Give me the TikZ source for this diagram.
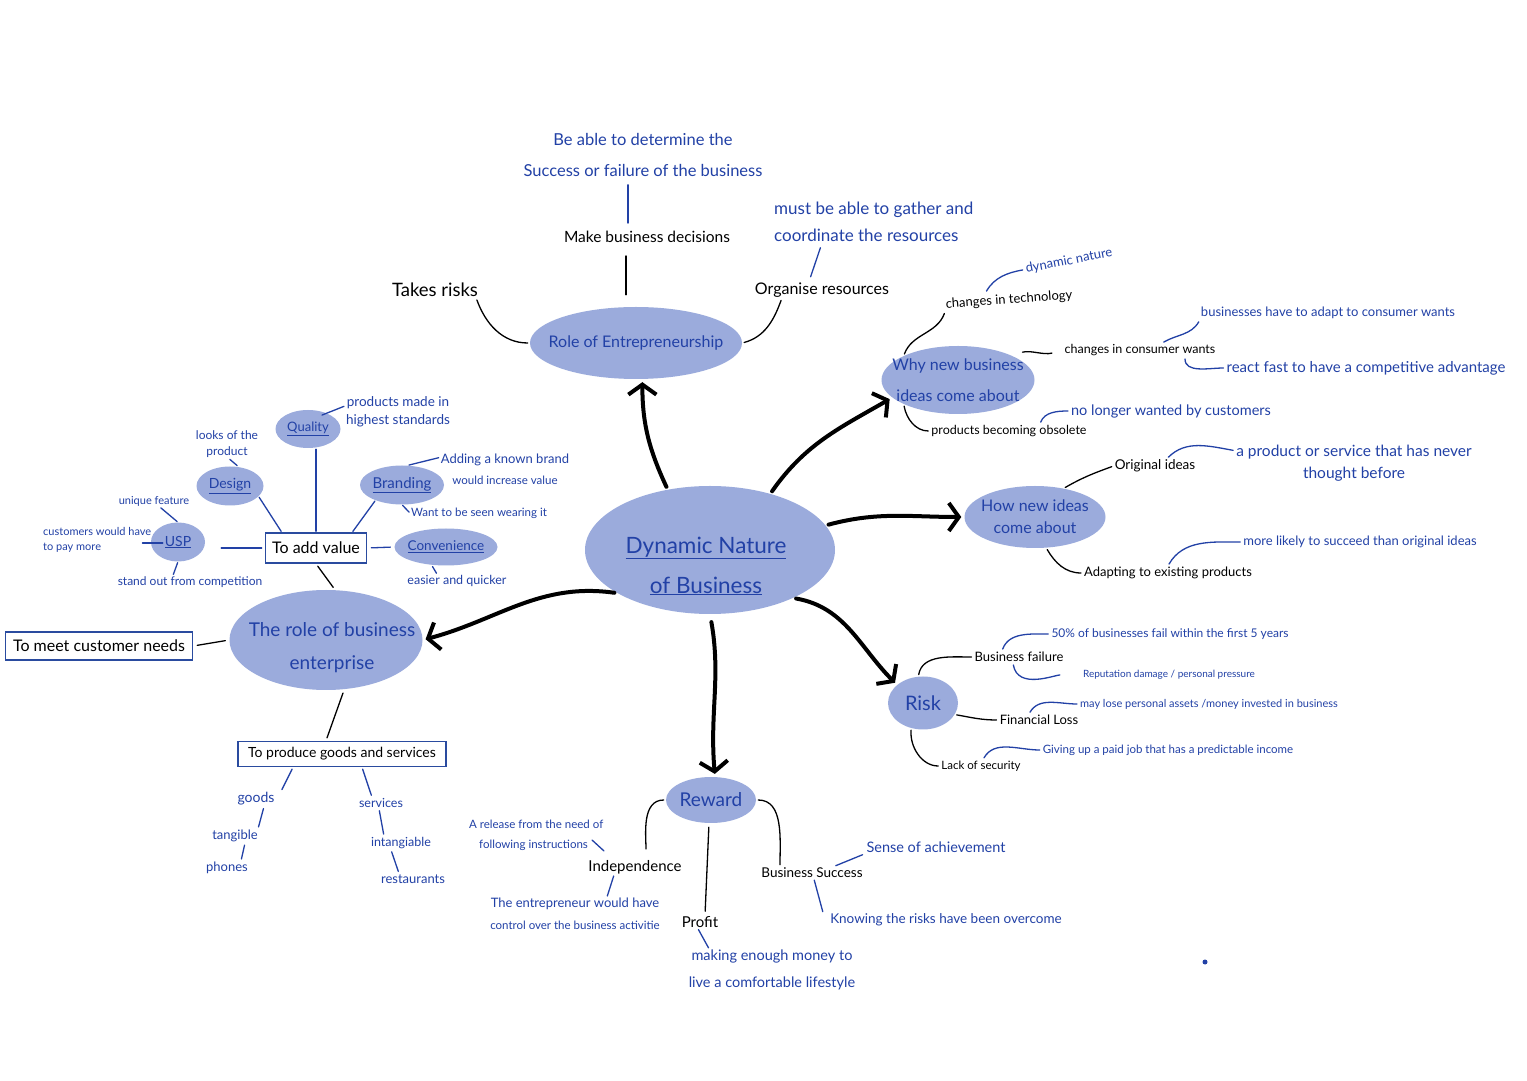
\documentclass[tikz,border=0pt]{standalone}
\usepackage{fontspec}
\setmainfont{Lato}
\usetikzlibrary{shapes.geometric,arrows.meta,positioning}

\definecolor{blobfill}{HTML}{9BABDC}
\definecolor{inkblue}{HTML}{2241A6}
\definecolor{boxblue}{HTML}{2A4B9F}

\begin{document}
\begin{tikzpicture}[
        x=1pt, y=1pt,
        >={Straight Barb[length=10pt,width=28pt]},
        % Node styles
        blob/.style 2 args={ellipse, fill=blobfill, inner sep=0pt,
            minimum width=#1, minimum height=#2},
        goalbox/.style={rectangle, draw=boxblue, line width=1.6pt, inner sep=0pt,
            align=center, font=\fontsize{#1}{#1}\selectfont},
        topic/.style={inner sep=1pt, align=center, font=\fontsize{#1}{#1}\selectfont},
        remark/.style={topic=#1, text=inkblue},
        % Connector styles
        wire/.style={line width=1.3pt, line cap=round, shorten <=#1, shorten >=#1},
        wire/.default=2pt,
        bluewire/.style={wire=#1, draw=inkblue},
        bluewire/.default=2pt,
        bigarrow/.style={->, line width=4pt, line cap=round,
            shorten <=3pt, shorten >=3pt}
    ]

    \path[use as bounding box, fill=white] (0,0) rectangle (1527,1080);

    % Centre
    \node[blob={250pt}{128pt}] (dnb) at (710,530) {};
    \node[remark=22.5] (dnbtext) at (706,514) {\underline{Dynamic Nature}\\[17.5pt]\underline{of Business}};

    % Role of Entrepreneurship
    \node[blob={212pt}{72pt}] (role) at (636,737) {};
    \node[remark=16] (roletext) at (role) {Role of Entrepreneurship};
    \node[topic=18.5] (takes) at (435,790) {Takes risks};
    \node[topic=15.5] (decide) at (647,843) {Make business decisions};
    \node[remark=16.5] (determine) at (643,925) {Be able to determine the\\[14.5pt]Success or failure of the business};
    \node[topic=16] (organise) at (822,790) {Organise resources};
    \node[remark=17, anchor=west, align=left] (gather) at (773,858) {must be able to gather and\\[10pt]coordinate the resources};

    % Why new business ideas come about
    \node[blob={153pt}{68pt}] (why) at (958,700) {};
    \node[remark=16] (whytext) at (why) {Why new business\\[15pt]ideas come about};
    \node[topic=13, rotate=4] (tech) at (1009,780) {changes in technology};
    \node[remark=13, rotate=11] (dynamic) at (1069,819) {dynamic nature};
    \node[topic=12.5] (consumer) at (1140,730) {changes in consumer wants};
    \node[remark=13] (adapt) at (1328,767) {businesses have to adapt to consumer wants};
    \node[remark=15] (react) at (1366,712) {react fast to have a competitive advantage};
    \node[topic=12.5] (obsolete) at (1009,649) {products becoming obsolete};
    \node[remark=14.5] (nolonger) at (1171,669) {no longer wanted by customers};

    % How new ideas come about
    \node[blob={141pt}{62pt}] (how) at (1035,563) {};
    \node[remark=16] (howtext) at (how) {How new ideas\\[6pt]come about};
    \node[topic=13.5] (original) at (1155,614) {Original ideas};
    \node[remark=15.5] (never) at (1354,617) {a product or service that has never\\[6.5pt]thought before};
    \node[topic=13] (adapting) at (1168,507) {Adapting to existing products};
    \node[remark=13] (likely) at (1360,538) {more likely to succeed than original ideas};

    % Risk
    \node[blob={70pt}{53pt}] (risk) at (923,377) {};
    \node[remark=20] (risktext) at (risk) {Risk};
    \node[topic=13] (failure) at (1019,423) {Business failure};
    \node[remark=12] (fifty) at (1170,446) {50\% of businesses fail within the first 5 years};
    \node[remark=10] (reputation) at (1169,405) {Reputation damage / personal pressure};
    \node[topic=13] (finloss) at (1039,360) {Financial Loss};
    \node[remark=11] (assets) at (1209,376) {may lose personal assets /money invested in business};
    \node[topic=11.5] (security) at (981,314) {Lack of security};
    \node[remark=11.5] (paidjob) at (1168,330) {Giving up a paid job that has a predictable income};

    % Reward
    \node[blob={90pt}{46pt}] (reward) at (711,280) {};
    \node[remark=19] (rewardtext) at (reward) {Reward};
    \node[topic=15] (indep) at (635,213) {Independence};
    \node[remark=11.5, anchor=west, align=left] (release) at (468,245) {A release from the need of\\[8.5pt]\hspace*{10pt}following instructions};
    \node[remark=13] (control) at (575,166) {The entrepreneur would have\\[9pt]{\fontsize{11.5}{11.5}\selectfont control over the business activitie}};
    \node[topic=15] (profit) at (700,158) {Profit};
    \node[remark=14.5] (money) at (772,110) {making enough money to\\[12.5pt]live a comfortable lifestyle};
    \node[topic=13.5] (success) at (812,207) {Business Success};
    \node[remark=14.5] (achieve) at (936,233) {Sense of achievement};
    \node[remark=13.5] (knowing) at (946,160) {Knowing the risks have been overcome};

    % The role of business enterprise
    \node[blob={193pt}{100pt}] (rbe) at (326,440) {};
    \node[remark=19] (rbetext) at (332,432) {The role of business\\[14pt]enterprise};
    \node[goalbox=16, minimum width=187pt, minimum height=28pt] (needs) at (99,434) {To meet customer needs};
    \node[goalbox=16, minimum width=101pt, minimum height=30pt] (addvalue) at (316,532) {To add value};
    \node[goalbox=14, minimum width=208pt, minimum height=25pt] (produce) at (342,326) {To produce goods and services};

    % To add value
    \node[blob={65pt}{38pt}] (quality) at (308,651) {};
    \node[remark=13] (qualitytext) at (quality) {\underline{Quality}};
    \node[remark=13.5] (madein) at (398,668) {products made in\\[4.5pt]highest standards};
    \node[blob={67pt}{39pt}] (design) at (230,594) {};
    \node[remark=14] (designtext) at (design) {\underline{Design}};
    \node[remark=12] (looks) at (227,636) {looks of the\\[4pt]product};
    \node[blob={84pt}{39pt}] (branding) at (402,595) {};
    \node[remark=15] (brandingtext) at (branding) {\underline{Branding}};
    \node[remark=13] (brand) at (505,611) {Adding a known brand\\[8pt]{\fontsize{11.5}{11.5}\selectfont would increase value}};
    \node[remark=11.5] (wearing) at (479,567) {Want to be seen wearing it};
    \node[blob={54pt}{39pt}] (usp) at (178,538) {};
    \node[remark=14] (usptext) at (usp) {\underline{USP}};
    \node[remark=11] (unique) at (154,579) {unique feature};
    \node[remark=11, anchor=west, align=left] (paymore) at (42,540) {customers would have\\[4pt]to pay more};
    \node[remark=12] (standout) at (190,498) {stand out from competition};
    \node[blob={103pt}{37pt}] (conv) at (446,533) {};
    \node[remark=13.5] (convtext) at (conv) {\underline{Convenience}};
    \node[remark=12.5] (easier) at (457,499) {easier and quicker};

    % To produce goods and services
    \node[remark=14] (goods) at (256,281) {goods};
    \node[remark=13] (tangible) at (235,244) {tangible};
    \node[remark=13] (phones) at (227,212) {phones};
    \node[remark=12.5] (services) at (381,277) {services};
    \node[remark=12.5] (intang) at (401,237) {intangiable};
    \node[remark=13] (restau) at (413,201) {restaurants};

    % Main arrows
    \draw[bigarrow] (dnb.125) to[out=115, in=-90] (role.-80);
    \draw[bigarrow] (dnb.43) to[out=55, in=210] (why.195);
    \draw[bigarrow] (dnb.12) to[out=15, in=180] (how.west);
    \draw[bigarrow] (dnb.-30) to[out=-10, in=135] (risk.145);
    \draw[bigarrow, shorten <=8pt] (dnb.south) to[out=-80, in=95] (reward.80);
    \draw[bigarrow] (dnb.205) to[out=172, in=15] (rbe.east);

    % Role of Entrepreneurship links
    \draw[wire] ([xshift=-3pt]takes.south east) to[out=-70, in=180] (role.west);
    \draw[wire=12pt] ([xshift=-21pt]decide.south) -- ([xshift=-10pt]role.north);
    \draw[bluewire=7pt] ([xshift=-15pt]determine.south) -- ([xshift=-19pt]decide.north);
    \draw[wire] ([xshift=28pt]organise.south west) to[out=-110, in=15] (role.east);
    \draw[bluewire=5pt] ([xshift=-13pt]organise.north) -- (organise.north |- gather.south);

    % Why links
    \draw[wire] (why.north west) to[out=70, in=-110] (tech.south west);
    \draw[bluewire] ([xshift=-23pt]tech.north) to[out=60, in=190] (dynamic.west);
    \draw[wire=12pt] (why.25) to[out=15, in=195] (consumer.west);
    \draw[bluewire] ([xshift=22pt]consumer.north) to[out=30, in=-120] (adapt.south west);
    \draw[bluewire] ([xshift=45pt]consumer.south) to[out=-90, in=180] (react.west);
    \draw[wire] (why.south west) to[out=-80, in=180] (obsolete.west);
    \draw[bluewire] ([xshift=31pt]obsolete.north) to[out=70, in=180] (nolonger.west);

    % How links
    \draw[wire] (how.45) to[out=30, in=200] (original.west);
    \draw[bluewire] ([xshift=12pt]original.north) to[out=45, in=170] ([yshift=-7pt]never.north west);
    \draw[wire] (how.-70) to[out=-60, in=180] (adapting.west);
    \draw[bluewire] (adapting.north) to[out=60, in=180] (likely.west);

    % Risk links
    \draw[wire] (risk.100) to[out=80, in=180] (failure.west);
    \draw[bluewire] ([xshift=-17pt]failure.north) to[out=70, in=180] (fifty.west);
    \draw[bluewire, shorten >=22pt] ([xshift=-6pt]failure.south) to[out=-80, in=180] (reputation.west);
    \draw[wire] (risk.-20) to[out=-10, in=180] (finloss.west);
    \draw[bluewire] ([xshift=-10pt]finloss.north) to[out=60, in=180] (assets.west);
    \draw[wire] (risk.-115) to[out=-95, in=180] (security.west);
    \draw[bluewire] ([xshift=2pt]security.north) to[out=60, in=180] (paidjob.west);

    % Reward links
    \draw[wire, shorten >=10pt] (reward.west) to[out=180, in=90] ([xshift=11pt]indep.north);
    \draw[bluewire=0pt] ([xshift=124pt, yshift=-5pt]release.west) -- ([xshift=-31pt, yshift=8pt]indep.north);
    \draw[bluewire=1pt] ([xshift=-21pt]indep.south) -- ([xshift=32pt]control.north);
    \draw[wire=4pt] ([xshift=-2pt]reward.south) -- ([xshift=5pt]profit.north);
    \draw[bluewire=1pt] ([xshift=-2pt]profit.south) -- ([xshift=-63pt]money.north);
    \draw[wire] (reward.east) to[out=0, in=90] ([xshift=-32pt]success.north);
    \draw[bluewire=3pt] ([xshift=21pt]success.north) -- (achieve.south west);
    \draw[bluewire=1pt] ([xshift=2pt]success.south) -- ([xshift=-123pt]knowing.north);

    % The role of business enterprise links
    \draw[wire=4pt] (needs.east) -- (rbe.west);
    \draw[wire=3pt] (addvalue.south) -- ([xshift=9pt]rbe.north);
    \draw[wire=3pt] ([xshift=18pt]rbe.south) -- ([xshift=-16pt]produce.north);

    % To add value links
    \draw[bluewire=1pt] ([xshift=8pt]quality.south) -- (addvalue.north);
    \draw[bluewire=1pt] (design.-20) -- ([xshift=17pt]addvalue.north west);
    \draw[bluewire=1pt] (branding.-150) -- ([xshift=-15pt]addvalue.north east);
    \draw[bluewire=3pt] ([xshift=13pt]usp.east |- addvalue.west) -- (addvalue.west);
    \draw[bluewire=4pt] (addvalue.east) -- (conv.west);
    \draw[bluewire=1pt] ([xshift=-10pt]quality.north east) -- ([yshift=6pt]madein.west);
    \draw[bluewire=1pt] ([xshift=2pt]looks.south) -- ([xshift=8pt]design.north);
    \draw[bluewire=1pt] ([xshift=6pt]branding.north) -- ([yshift=-5pt]brand.north west);
    \draw[bluewire=1pt] (branding.south) -- (wearing.west);
    \draw[bluewire=1pt] ([xshift=6pt]unique.south) -- (usp.north);
    \draw[bluewire=0pt] ([xshift=-10pt, yshift=-3pt]paymore.east) -- ([xshift=12pt, yshift=-1pt]usp.west);
    \draw[bluewire=1pt] (usp.south) -- ([xshift=-17pt]standout.north);
    \draw[bluewire=1pt] ([xshift=-14pt]conv.south) -- ([xshift=-20pt]easier.north);

    % To produce goods and services links
    \draw[bluewire=2pt] ([xshift=-49pt]produce.south) -- ([xshift=25pt]goods.north);
    \draw[bluewire=2pt] ([xshift=8pt]goods.south) -- ([xshift=23pt]tangible.north);
    \draw[bluewire=2pt] ([xshift=10pt]tangible.south) -- ([xshift=14pt]phones.north);
    \draw[bluewire=2pt] ([xshift=20pt]produce.south) -- ([xshift=-9pt]services.north);
    \draw[bluewire=2pt] ([xshift=-2pt]services.south) -- ([xshift=-17pt]intang.north);
    \draw[bluewire=2pt] ([xshift=-10pt]intang.south) -- ([xshift=-14pt]restau.north);

    % stray pen mark
    \fill[inkblue] (1205,118) circle (2.5);

\end{tikzpicture}
\end{document}
